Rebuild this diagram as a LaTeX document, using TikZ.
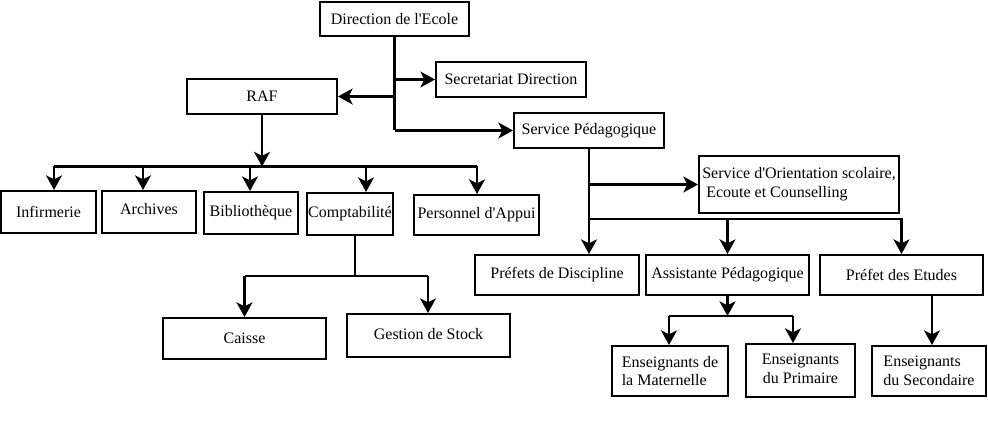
\documentclass[tikz,border=0pt]{standalone}
\usepackage{fontspec}
\setmainfont{Liberation Serif}
\usetikzlibrary{arrows.meta}

\newcommand{\sq}{\textquotesingle}

\tikzset{
  box/.style={draw, line width=1.5pt, inner sep=1pt, align=center,
    font=\fontsize{12}{14}\selectfont},
  wh/.style 2 args={minimum width=#1*0.75pt, minimum height=#2*0.75pt},
  link/.style={line width=1.6pt},
  arr/.style={link, -{Stealth[length=11pt,width=12pt,inset=3pt]}}
}

\begin{document}
\begin{tikzpicture}[x=0.75pt,y=-0.75pt]
  \useasboundingbox (0,0) rectangle (988,427);

  % direction
  \node[box, wh={149}{34}] (dir) at (394.5,19) {Direction de l\sq Ecole};
  \node[box, wh={150}{35}] (sec) at (511,79.5) {Secretariat Direction};
  \node[box, wh={150}{35}] (raf) at (262,96.5) {RAF};
  \node[box, wh={150}{35}] (sp) at (589,130.5) {Service P\'edagogique};

  \draw[link] (dir.south) -- (dir.south |- sp.west);
  \draw[arr] (dir.south |- sec.west) -- (sec.west);
  \draw[arr] (dir.south |- raf.east) -- (raf.east);
  \draw[arr] (dir.south |- sp.west) -- (sp.west);

  % RAF
  \node[box, wh={95}{42}] (inf) at (48.5,212) {Infirmerie};
  \node[box, wh={94}{42}] (arc) at (149,212) {\raisebox{4pt}{Archives}};
  \node[box, wh={94}{42}] (bib) at (251,213) {Biblioth\`eque};
  \node[box, wh={84}{42}] (cpt) at (350,214) {Comptabilit\'e};
  \node[box, wh={125}{40}] (pers) at (476.5,215) {Personnel d\sq Appui};

  \coordinate (rbus) at (54,166.5);
  \draw[arr] (raf.south) -- (raf.south |- rbus);
  \foreach \n/\x in {inf/54, arc/143, bib/250, cpt/366, pers/477}{
    \coordinate (t\n) at (\x,166.5);
    \draw[arr] (t\n) -- (t\n |- \n.north);
  }
  \draw[link] (tinf) -- (tpers);

  % comptabilite
  \node[box, wh={163}{41}] (cai) at (244.5,338.5) {Caisse};
  \node[box, wh={163}{43}] (ges) at (428.5,335.5) {\raisebox{3pt}{Gestion de Stock}};

  \coordinate (cj) at (355,276);
  \coordinate (cl) at (244.5,276);
  \coordinate (cr) at (428,276);
  \draw[link] (cj |- cpt.south) -- (cj);
  \draw[link] (cl) -- (cr);
  \draw[arr] (cl) -- (cl |- cai.north);
  \draw[arr] (cr) -- (cr |- ges.north);

  % service pedagogique
  \node[box, wh={200}{57}, align=left] (ori) at (799,184.5)
    {Service d\sq Orientation scolaire,\\\hspace{3pt}Ecoute et Counselling};
  \node[box, wh={164}{40}] (pdd) at (557,275) {Pr\'efets de Discipline};
  \node[box, wh={163}{40}] (ap) at (727.5,275) {Assistante P\'edagogique};
  \node[box, wh={163}{40}] (pde) at (901.5,275) {Pr\'efet des Etudes};

  \coordinate (sj) at (589,219);
  \draw[arr] (sp.south) -- (sp.south |- pdd.north);
  \draw[arr] (sj |- ori.west) -- (ori.west);
  \draw[arr] (sj) -| (pde.north);
  \draw[arr] (ap.north |- sj) -- (ap.north);

  % enseignants
  \node[box, wh={116}{50}, align=left] (ema) at (670,371) {Enseignants de\\la Maternelle};
  \node[box, wh={109}{53}] (epr) at (800.5,370.5) {\raisebox{3pt}{\begin{tabular}{@{}c@{}}Enseignants\\du Primaire\end{tabular}}};
  \node[box, wh={114}{50}, align=left] (ese) at (929,371) {Enseignants\\du Secondaire};

  \coordinate (al) at (669,316);
  \coordinate (ar) at (793,316);
  \draw[arr] (ap.south) -- (ap.south |- al);
  \draw[link] (al) -- (ar);
  \draw[arr] (al) -- (al |- ema.north);
  \draw[arr] (ar) -- (ar |- epr.north);

  \coordinate (pj) at (932,0);
  \draw[arr] (pj |- pde.south) -- (pj |- ese.north);
  %\draw[arr] (pde.south) -- (ese.north);
\end{tikzpicture}
\end{document}
